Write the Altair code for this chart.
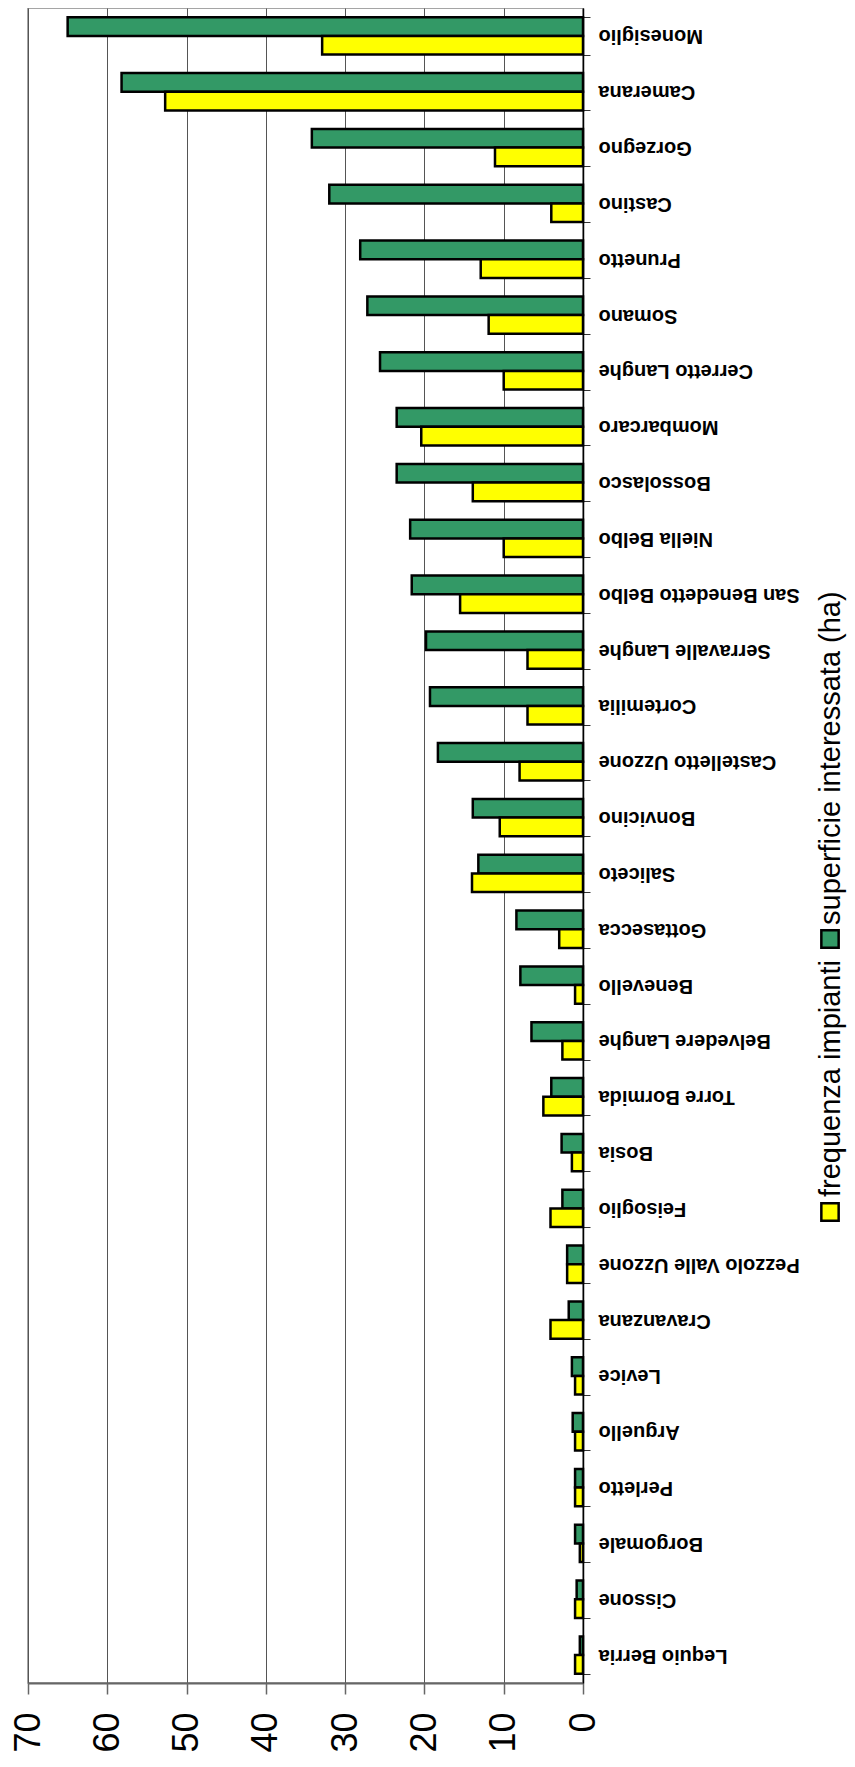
import altair as alt
import pandas as pd

comuni = ["Monesiglio", "Camerana", "Gorzegno", "Castino", "Prunetto", "Somano",
          "Cerretto Langhe", "Mombarcaro", "Bossolasco", "Niella Belbo",
          "San Benedetto Belbo", "Serravalle Langhe", "Cortemilia",
          "Castelletto Uzzone", "Bonvicino", "Saliceto", "Gottasecca", "Benevello",
          "Belvedere Langhe", "Torre Bormida", "Bosia", "Feisoglio",
          "Pezzolo Valle Uzzone", "Cravanzana", "Levice", "Arguello", "Perletto",
          "Borgomale", "Cissone", "Lequio Berria"]

superficie = [65.0, 58.2, 34.2, 32.0, 28.1, 27.2, 25.6, 23.5, 23.5, 21.8,
              21.6, 19.8, 19.3, 18.3, 13.9, 13.2, 8.4, 7.9, 6.5, 4.0,
              2.7, 2.6, 2.0, 1.8, 1.4, 1.3, 1.0, 1.0, 0.8, 0.4]
frequenza = [32.9, 52.7, 11.1, 4.0, 12.9, 11.9, 10.0, 20.4, 13.9, 10.0,
             15.5, 7.0, 7.0, 8.0, 10.5, 14.0, 3.0, 1.0, 2.6, 5.0,
             1.4, 4.1, 2.0, 4.1, 1.0, 1.0, 1.0, 0.4, 1.0, 1.0]

serie = ["superficie interessata (ha)", "frequenza impianti"]
colori = ["#339966", "#FFFF00"]
tick_values = [0, 10, 20, 30, 40, 50, 60, 70]

rows = []
for c, s, f in zip(comuni, superficie, frequenza):
    rows.append({"comune": c, "serie": serie[0], "valore": s})
    rows.append({"comune": c, "serie": serie[1], "valore": f})
df = pd.DataFrame(rows)

FONT = "Liberation Sans"
W, H = 555, 1675

bars = alt.Chart(df).mark_bar(stroke="black", strokeWidth=2.5).encode(
    y=alt.Y("comune:N", sort=comuni,
            scale=alt.Scale(paddingInner=0.33, paddingOuter=0.165),
            axis=alt.Axis(orient="right", labelAngle=180, labelAlign="right",
                          labelBaseline="middle", labelFontSize=20,
                          labelFontWeight="bold", labelFont=FONT,
                          labelColor="black", labelLimit=400,
                          tickBand="extent", tickSize=7, tickColor="#333",
                          domainColor="black", domainWidth=1.5,
                          labelPadding=8, title=None, grid=False)),
    x=alt.X("valore:Q",
            scale=alt.Scale(domain=[0, 70], reverse=True, nice=False),
            axis=alt.Axis(values=tick_values, labelAngle=270, labelAlign="right",
                          labelBaseline="middle", labelFontSize=36,
                          labelFont=FONT, labelColor="black",
                          grid=True, gridColor="#555", gridWidth=1,
                          domainColor="#666", domainWidth=2,
                          tickColor="#666", tickSize=11, tickWidth=1.5,
                          labelPadding=18, title=None)),
    yOffset=alt.YOffset("serie:N", sort=serie),
    color=alt.Color("serie:N", scale=alt.Scale(domain=serie, range=colori),
                    legend=None),
)

def legend_square(i, y):
    return alt.Chart(pd.DataFrame({"serie": [serie[i]]})).mark_square(
        size=300, stroke="black", strokeWidth=2.5, opacity=1
    ).encode(
        x=alt.value(802), y=alt.value(y),
        color=alt.Color("serie:N", scale=alt.Scale(domain=serie, range=colori),
                        legend=None),
    )

def legend_text(i, y):
    return alt.Chart(pd.DataFrame({"t": [serie[i]]})).mark_text(
        angle=270, align="left", baseline="middle", fontSize=29,
        font=FONT, color="black"
    ).encode(x=alt.value(803), y=alt.value(y), text="t:N")

chart = alt.layer(
    bars,
    legend_square(1, 1204),
    legend_text(1, 1189),
    legend_square(0, 931),
    legend_text(0, 917),
).properties(
    width=W, height=H,
    autosize=alt.AutoSizeParams(type="none"),
    padding={"left": 20, "top": 0, "right": 264, "bottom": 76},
).configure_view(stroke="#888", strokeWidth=1.5)

chart.save("out.html", embed_options={"renderer": "svg", "actions": False})
